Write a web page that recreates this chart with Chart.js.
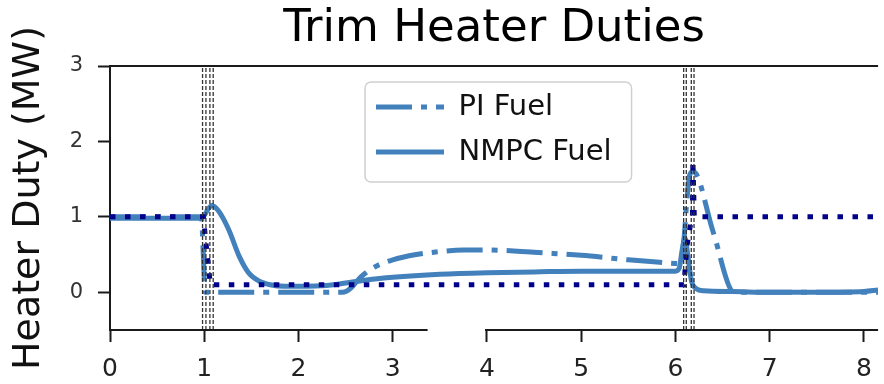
<!DOCTYPE html>
<html>
<head>
<meta charset="utf-8">
<script src="https://cdn.jsdelivr.net/npm/chart.js@4/dist/chart.umd.min.js"></script>
<style>
  html, body { margin: 0; padding: 0; background: #fff; }
  canvas { display: block; }
</style>
</head>
<body>
<canvas id="heaterChart" width="884" height="384"></canvas>
<script>
const piTime = [0, 0.97, 0.99, 1.01, 1.5, 2.0, 2.47, 2.55, 2.66, 2.8, 3.0, 3.25, 3.5, 3.75, 4.0, 4.25, 4.5, 5.0, 5.5, 5.8, 6.05, 6.09, 6.12, 6.15, 6.19, 6.4, 6.62, 7.0, 7.5, 8.15]
const piDuty = [1.0, 1.0, 0.5, 0.0, 0.0, 0.0, 0.0, 0.05, 0.2, 0.33, 0.43, 0.5, 0.54, 0.56, 0.56, 0.55, 0.53, 0.49, 0.43, 0.4, 0.38, 0.7, 1.2, 1.55, 1.6, 0.8, 0.0, 0.0, 0.0, 0.0]

const nmpcTime = [0, 0.5, 0.95, 1.0, 1.04, 1.08, 1.15, 1.26, 1.37, 1.47, 1.58, 1.7, 1.85, 2.0, 2.3, 2.7, 3.0, 3.5, 4.0, 4.5, 5.0, 5.5, 6.0, 6.04, 6.07, 6.1, 6.13, 6.17, 6.22, 6.3, 6.6, 7.0, 7.5, 8.0, 8.15]
const nmpcDuty = [0.98, 0.98, 0.98, 1.02, 1.1, 1.15, 1.08, 0.83, 0.48, 0.26, 0.15, 0.1, 0.08, 0.08, 0.09, 0.16, 0.2, 0.24, 0.26, 0.27, 0.28, 0.28, 0.28, 0.32, 0.55, 0.72, 0.5, 0.15, 0.05, 0.02, 0.01, 0.0, 0.0, 0.01, 0.03]

// dotted navy line, not in the legend
const setpointTime = [0, 0.99, 1.065, 6.09, 6.12, 6.16, 6.18, 6.185, 6.2, 8.15]
const setpointDuty = [1.0, 1.0, 0.1, 0.1, 0.6, 0.9, 1.0, 1.75, 1.0, 1.0]

const eventTimes = [0.982, 1.018, 1.06, 1.095, 6.087, 6.115, 6.168, 6.197]

const xTicks = [0, 1, 2, 3, 4, 5, 6, 7, 8]
const yTicks = [0, 1, 2, 3]
const axisBreak = [3.37, 3.99] // gap in the bottom spine

const BLUE = '#4381bd'
const NAVY = '#00008b'
const INK = '#1a1a1a'

Chart.defaults.font.family = "'DejaVu Sans', sans-serif"

const zipPoints = (xs, ys) => xs.map((x, i) => ({ x, y: ys[i] }))

const eventSets = eventTimes.map(t => ({
  data: [{ x: t, y: -0.5 }, { x: t, y: 3 }],
  borderColor: '#333',
  borderWidth: 1.3,
  borderDash: [4, 2],
  order: 0,
}))

// legend handles should carry the dataset's own dash pattern
const legendLabels = chart =>
  Chart.defaults.plugins.legend.labels.generateLabels(chart).map(item => {
    const ds = chart.data.datasets[item.datasetIndex]
    return { ...item, lineDash: ds.borderDash || [], lineWidth: ds.borderWidth, strokeStyle: ds.borderColor }
  })

const spines = {
  id: 'spines',
  afterLayout(chart) {
    // park the legend inside the axes, like matplotlib's "upper center"
    const legend = chart.legend
    legend.left = 360
    legend.top = 76.5
    legend.right = chart.chartArea.right
    legend.bottom = chart.chartArea.bottom
  },
  beforeDraw(chart) {
    const { ctx } = chart
    const boxes = chart.legend.legendHitBoxes
    if (!boxes || !boxes.length) return
    const last = boxes[boxes.length - 1]
    const left = Math.min(...boxes.map(b => b.left)) - 11
    const top = boxes[0].top - 10.5
    const right = Math.max(...boxes.map(b => b.left + b.width)) + 20
    const bottom = last.top + last.height + 15.5
    ctx.save()
    ctx.beginPath()
    ctx.roundRect(left, top, right - left, bottom - top, 6)
    ctx.fillStyle = 'rgba(255,255,255,0.8)'
    ctx.fill()
    ctx.strokeStyle = '#d0d0d0'
    ctx.lineWidth = 1.5
    ctx.stroke()
    ctx.restore()
  },
  afterDraw(chart) {
    const { ctx, chartArea, scales: { x } } = chart
    ctx.save()
    ctx.strokeStyle = INK
    ctx.lineWidth = 2
    ctx.beginPath()
    ctx.moveTo(chartArea.left - 1, chartArea.top)
    ctx.lineTo(chartArea.right, chartArea.top)
    ctx.moveTo(chartArea.left - 1, chartArea.bottom)
    ctx.lineTo(x.getPixelForValue(axisBreak[0]), chartArea.bottom)
    ctx.moveTo(x.getPixelForValue(axisBreak[1]) - 1, chartArea.bottom)
    ctx.lineTo(chartArea.right, chartArea.bottom)
    ctx.stroke()
    ctx.restore()
  },
}

new Chart(document.getElementById('heaterChart'), {
  type: 'line',
  data: {
    datasets: [
      {
        label: 'PI Fuel',
        data: zipPoints(piTime, piDuty),
        borderColor: BLUE,
        borderWidth: 5,
        borderDash: [36, 9, 6, 9],
        cubicInterpolationMode: 'monotone',
        order: 3,
      },
      {
        label: 'NMPC Fuel',
        data: zipPoints(nmpcTime, nmpcDuty),
        borderColor: BLUE,
        borderWidth: 5,
        cubicInterpolationMode: 'monotone',
        order: 2,
      },
      {
        label: 'setpoint',
        data: zipPoints(setpointTime, setpointDuty),
        borderColor: NAVY,
        borderWidth: 5,
        borderDash: [5.5, 9.5],
        tension: 0,
        order: 1,
      },
      ...eventSets,
    ],
  },
  options: {
    responsive: false,
    animation: false,
    devicePixelRatio: 1,
    layout: { padding: 0 },
    elements: { point: { radius: 0 } },
    scales: {
      x: {
        type: 'linear',
        position: 'bottom',
        min: 0,
        max: 8.15,
        afterBuildTicks: s => { s.ticks = xTicks.map(value => ({ value })) },
        afterFit: s => { s.height = 54 },
        border: { display: false },
        grid: { drawOnChartArea: false, tickLength: 12, tickWidth: 2, tickColor: INK },
        ticks: { font: { size: 25 }, color: '#222', padding: 12, maxRotation: 0, autoSkip: false },
      },
      y: {
        type: 'linear',
        position: 'left',
        min: -0.5,
        max: 3,
        afterBuildTicks: s => { s.ticks = yTicks.map(value => ({ value })) },
        afterFit: s => { s.width = 110 },
        border: { display: true, width: 2, color: INK },
        grid: { drawOnChartArea: false, drawTicks: true, tickLength: 12, tickWidth: 2, tickColor: INK },
        ticks: { font: { size: 21 }, color: '#333', padding: 15, crossAlign: 'near' },
        title: {
          display: true,
          text: 'Heater Duty (MW)',
          font: { size: 38, lineHeight: 1.2 },
          color: '#111',
          padding: { top: 6, bottom: 0 },
        },
      },
    },
    plugins: {
      title: {
        display: true,
        text: 'Trim Heater Duties',
        fullSize: false,
        font: { size: 45, weight: 'normal', lineHeight: 1.2 },
        color: '#000',
        padding: { top: 2, bottom: 10 },
      },
      legend: {
        position: 'chartArea',
        align: 'start',
        labels: {
          usePointStyle: true,
          pointStyle: 'line',
          pointStyleWidth: 68,
          font: { size: 29 },
          color: '#111',
          padding: 16,
          generateLabels: legendLabels,
          filter: item => item.datasetIndex < 2,
          sort: (a, b) => a.datasetIndex - b.datasetIndex,
        },
      },
      tooltip: { enabled: false },
    },
  },
  plugins: [spines],
})
</script>
</body>
</html>
